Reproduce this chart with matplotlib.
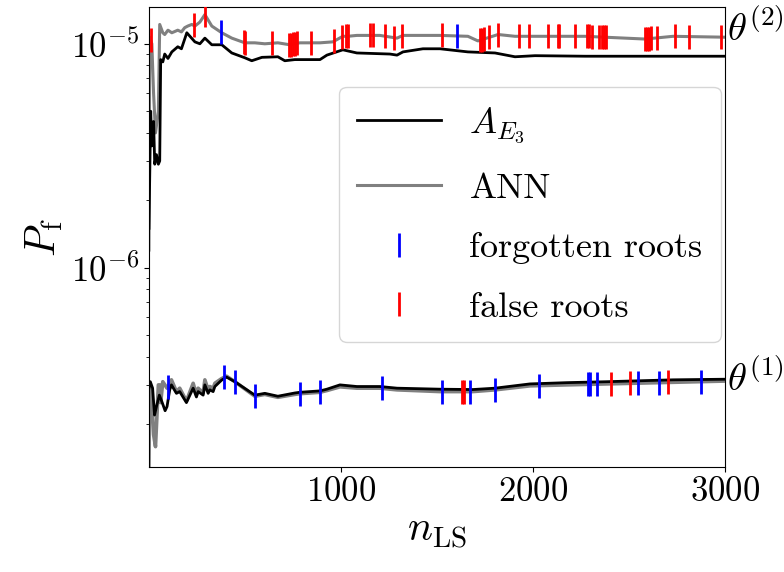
import numpy as np
import matplotlib
matplotlib.use("Agg")
import matplotlib.pyplot as plt

plt.rcParams.update({
    "font.family": "serif",
    "font.serif": ["cmr10"],
    "mathtext.fontset": "cm",
    "axes.formatter.use_mathtext": True,
    "axes.unicode_minus": False,
})

# ---------------- data ----------------
# theta^(2) -- ANN (gray)
n_t2_ann = [1, 5, 16, 25, 35, 50, 57, 73, 83, 100, 120, 151, 170, 187, 203, 224, 240, 266,
            292, 328, 380, 432, 500, 552, 604, 672, 734, 786, 891, 958, 1010, 1036, 1083,
            1203, 1292, 1323, 1516, 1661, 1713, 1818, 1906, 2010, 2271, 2583, 2729, 3000]
p_t2_ann = [1.2e-6, 1.07e-5, 1.0e-5, 6.0e-6, 4.0e-6, 5.0e-6, 1.22e-5, 1.12e-5, 1.1e-5, 1.15e-5,
            1.12e-5, 1.15e-5, 1.13e-5, 1.18e-5, 1.2e-5, 1.22e-5, 1.2e-5, 1.25e-5,
            1.35e-5, 1.2e-5, 1.12e-5, 1.06e-5, 1.01e-5, 1.01e-5, 1.0e-5, 1.01e-5, 0.99e-5,
            1.01e-5, 1.01e-5, 1.02e-5, 1.08e-5, 1.08e-5, 1.09e-5, 1.09e-5, 1.06e-5, 1.09e-5,
            1.09e-5, 1.08e-5, 1.03e-5, 1.10e-5, 1.08e-5, 1.08e-5, 1.08e-5, 1.05e-5, 1.08e-5, 1.07e-5]

# theta^(2) -- A_E3 (black)
n_t2_ae = [1, 10, 16, 25, 31, 40, 50, 57, 62, 73, 83, 100, 120, 151, 170, 198, 240, 266,
           292, 328, 380, 432, 500, 536, 589, 672, 708, 760, 891, 927, 1010, 1083, 1255,
           1292, 1323, 1427, 1516, 1661, 1802, 1906, 2010, 2271, 2583, 3000]
p_t2_ae = [1.5e-6, 5.0e-6, 3.5e-6, 4.5e-6, 2.9e-6, 3.2e-6, 2.9e-6, 3.0e-6, 8.5e-6, 8.3e-6,
           9.0e-6, 8.6e-6, 9.2e-6, 9.7e-6, 9.5e-6, 1.12e-5, 1.02e-5, 1.0e-5,
           1.06e-5, 9.9e-6, 9.9e-6, 9.1e-6, 8.66e-6, 8.4e-6, 8.7e-6, 8.75e-6, 8.4e-6,
           8.5e-6, 8.5e-6, 8.9e-6, 9.4e-6, 9.1e-6, 9.0e-6, 8.9e-6, 9.2e-6, 9.5e-6, 9.5e-6,
           9.2e-6, 9.1e-6, 8.75e-6, 8.85e-6, 8.8e-6, 8.8e-6, 8.8e-6]

# theta^(1) -- ANN (gray)
n_t1_ann = [1, 5, 16, 25, 35, 50, 57, 62, 73, 95, 118, 144, 161, 196, 231, 248, 257, 283,
            292, 309, 318, 335, 344, 379, 405, 448, 552, 604, 672, 760, 786, 891, 927, 995,
            1083, 1203, 1292, 1516, 1687, 1802, 1984, 2177, 2385, 2729, 3000]
p_t1_ann = [1.29e-7, 3.0e-7, 2.6e-7, 1.8e-7, 1.59e-7, 3.0e-7, 3.0e-7, 2.5e-7, 3.1e-7, 2.9e-7,
            3.16e-7, 2.8e-7, 2.9e-7, 2.54e-7, 3.05e-7, 2.71e-7, 2.9e-7, 2.76e-7,
            3.16e-7, 2.85e-7, 2.95e-7, 2.9e-7, 3.05e-7, 3.2e-7, 3.28e-7, 3.1e-7, 2.67e-7,
            2.72e-7, 2.64e-7, 2.72e-7, 2.74e-7, 2.78e-7, 2.83e-7, 2.94e-7, 2.9e-7, 2.9e-7,
            2.85e-7, 2.8e-7, 2.8e-7, 2.85e-7, 2.97e-7, 3.0e-7, 3.03e-7, 3.08e-7, 3.12e-7]

# theta^(1) -- A_E3 (black)
n_t1_ae = [1, 8, 20, 30, 40, 55, 70, 85, 95, 109, 118, 144, 161, 196, 231, 248, 257, 283,
           292, 309, 318, 335, 344, 379, 405, 448, 552, 604, 672, 760, 786, 891, 927, 995,
           1083, 1203, 1292, 1516, 1687, 1802, 1984, 2177, 2385, 2729, 3000]
p_t1_ae = [2.9e-7, 3.1e-7, 2.9e-7, 2.2e-7, 2.4e-7, 2.7e-7, 2.5e-7, 2.3e-7, 2.4e-7, 2.85e-7,
           3.0e-7, 2.75e-7, 2.8e-7, 2.5e-7, 2.9e-7, 2.65e-7, 2.8e-7, 2.7e-7,
           3.0e-7, 2.75e-7, 2.85e-7, 2.8e-7, 2.95e-7, 3.15e-7, 3.25e-7, 3.1e-7, 2.7e-7,
           2.75e-7, 2.67e-7, 2.76e-7, 2.78e-7, 2.82e-7, 2.87e-7, 3.0e-7, 2.95e-7, 2.95e-7,
           2.9e-7, 2.87e-7, 2.86e-7, 2.9e-7, 3.03e-7, 3.07e-7, 3.1e-7, 3.16e-7, 3.18e-7]

# root markers (sample counts)
t2_false = [10, 234, 292, 495, 500, 641, 729, 740, 750, 760, 771, 844, 964, 1005, 1026, 1036,
            1151, 1167, 1229, 1276, 1318, 1526, 1724, 1734, 1745, 1771, 1818, 1927, 1979,
            2078, 2130, 2135, 2219, 2281, 2292, 2307, 2344, 2359, 2370, 2380, 2583, 2594,
            2604, 2615, 2646, 2740, 2812, 2979]
t2_forgot = [375, 1604]
t1_false = [1630, 1640, 2406, 2505, 2703]
t1_forgot = [99, 391, 448, 552, 786, 891, 1214, 1526, 1672, 1802, 2031, 2286, 2297, 2333,
             2547, 2656, 2875]

theta_labels = [r"$\theta^{(1)}$", r"$\theta^{(2)}$"]
theta_label_y = [3.2e-7, 1.17e-5]

# ---------------- plot ----------------
fig = plt.figure(figsize=(7.84, 5.72), dpi=100)
ax = fig.add_axes([0.190, 0.1836, 0.735, 0.8042])

ax.plot(n_t2_ae, p_t2_ae, color="black", lw=2.0, zorder=3, label=r"$A_{E_3}$")
ax.plot(n_t2_ann, p_t2_ann, color="gray", lw=2.2, zorder=2, label="ANN")
ax.plot(n_t1_ann, p_t1_ann, color="gray", lw=2.6, zorder=2)
ax.plot(n_t1_ae, p_t1_ae, color="black", lw=2.0, zorder=3)


def on_line(xs, n, p):
    return np.exp(np.interp(xs, n, np.log(p)))


mk = dict(marker="|", linestyle="none", markersize=17, markeredgewidth=2, zorder=4)
ax.plot(t2_forgot, on_line(t2_forgot, n_t2_ann, p_t2_ann), color="blue",
        label="forgotten roots", **mk)
ax.plot(t2_false, on_line(t2_false, n_t2_ann, p_t2_ann), color="red",
        label="false roots", **mk)
ax.plot(t1_forgot, on_line(t1_forgot, n_t1_ann, p_t1_ann), color="blue", **mk)
ax.plot(t1_false, on_line(t1_false, n_t1_ann, p_t1_ann), color="red", **mk)

ax.set_yscale("log")
ax.set_xlim(1, 3000)
ax.set_ylim(1.29e-7, 1.46e-5)
ax.set_xticks([1000, 2000, 3000])
ax.tick_params(axis="both", which="major", labelsize=25)

ax.set_xlabel(r"$n_{\mathrm{LS}}$", fontsize=30)
ax.set_ylabel(r"$P_{\mathrm{f}}$", fontsize=30)

for lab, yv in zip(theta_labels, theta_label_y):
    ax.text(1.003, yv, lab, transform=ax.get_yaxis_transform(), fontsize=28,
            va="center", ha="left", clip_on=False)

leg = ax.legend(loc="upper right", bbox_to_anchor=(0.992, 0.826), borderaxespad=0,
                fontsize=26, handlelength=2.3, labelspacing=0.75, borderpad=0.5)

fig.savefig("out.png", dpi=100)
